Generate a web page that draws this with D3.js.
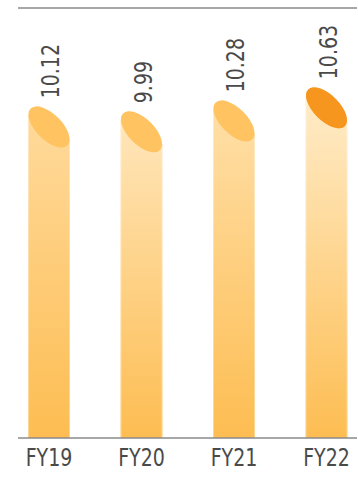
<!DOCTYPE html>
<html>
<head>
<meta charset="utf-8">
<script src="https://cdn.jsdelivr.net/npm/d3@7"></script>
<style>
  html, body { margin: 0; padding: 0; background: #fff; }
  svg { display: block; }
  text { font-family: "Liberation Sans Narrow", "DejaVu Sans Condensed", "Roboto", sans-serif; fill: #4a4a4a; }
</style>
</head>
<body>
<svg id="chart" width="358" height="477"></svg>
<script>
// Fiscal years and values shown on the cylinders
const categories = ["FY19", "FY20", "FY21", "FY22"];
const values = [10.12, 9.99, 10.28, 10.63];
const valueLabels = ["10.12", "9.99", "10.28", "10.63"];
// Cap colour per cylinder (latest year highlighted)
const capColors = ["#FFC362", "#FFC362", "#FFC362", "#F7961F"];
// Light tone at the top of each body gradient
const bodyTopColors = ["#FFDA9C", "#FFE6BB", "#FFDFA7", "#FFECC9"];
const bodyBottomColor = "#FDBD52";

const svg = d3.select("#chart");

const x = d3.scalePoint().domain(categories).range([49, 326.5]);
const y = d3.scaleLinear().domain([1.8, 13.3]).range([438, 8]);

const barW = 42;
// Tilted elliptical cap: semi-axes and 45° rotation
const ra = 26, rb = 13;
const halfW = Math.sqrt((ra * ra + rb * rb) / 2);
const edgeDy = (ra * ra - rb * rb) / (Math.SQRT2 * Math.sqrt(ra * ra + rb * rb));
const fontSize = 24, squeeze = 0.88;

const defs = svg.append("defs");
categories.forEach((c, i) => {
  const g = defs.append("linearGradient")
    .attr("id", "body" + i)
    .attr("x1", 0).attr("y1", 0).attr("x2", 0).attr("y2", 1);
  g.append("stop").attr("offset", "0%").attr("stop-color", bodyTopColors[i]);
  g.append("stop").attr("offset", "100%").attr("stop-color", bodyBottomColor);
});

// top rule
svg.append("line")
  .attr("x1", 18).attr("x2", 357)
  .attr("y1", y(13.3)).attr("y2", y(13.3))
  .attr("stroke", "#8a8a8a").attr("stroke-width", 1.5);

const bars = svg.append("g").selectAll("g")
  .data(categories.map((c, i) => ({ c, v: values[i], i })))
  .join("g");

bars.append("path")
  .attr("d", d => {
    const cx = x(d.c), cy = y(d.v), base = y(1.8);
    const l = cx - barW / 2, r = cx + barW / 2;
    return `M${l},${cy - edgeDy}L${r},${cy + edgeDy}L${r},${base}L${l},${base}Z`;
  })
  .attr("fill", d => `url(#body${d.i})`);

// faint highlight along the cylinder edges
bars.append("path")
  .attr("d", d => {
    const cx = x(d.c), cy = y(d.v), base = y(1.8);
    const l = cx - barW / 2 + 0.5, r = cx + barW / 2 - 0.5;
    return `M${l},${cy - edgeDy}L${l},${base}M${r},${cy + edgeDy}L${r},${base}`;
  })
  .attr("stroke", "#fff").attr("stroke-opacity", 0.35).attr("stroke-width", 1)
  .attr("fill", "none");

bars.append("ellipse")
  .attr("cx", 0).attr("cy", 0)
  .attr("rx", ra).attr("ry", rb)
  .attr("transform", d => `translate(${x(d.c)},${y(d.v)}) rotate(45)`)
  .attr("fill", d => capColors[d.i]);

bars.append("text")
  .attr("transform", d => `translate(${x(d.c) + 10},${y(d.v) - halfW - 8}) rotate(-90) scale(${squeeze},1)`)
  .attr("text-anchor", "start")
  .attr("font-size", fontSize)
  .text(d => valueLabels[d.i]);

// baseline
svg.append("line")
  .attr("x1", 18).attr("x2", 357)
  .attr("y1", y(1.8)).attr("y2", y(1.8))
  .attr("stroke", "#8a8a8a").attr("stroke-width", 1.5);

svg.append("g").selectAll("text")
  .data(categories)
  .join("text")
  .attr("transform", d => `translate(${x(d)},466) scale(${squeeze},1)`)
  .attr("text-anchor", "middle")
  .attr("font-size", fontSize)
  .text(d => d);
</script>
</body>
</html>
